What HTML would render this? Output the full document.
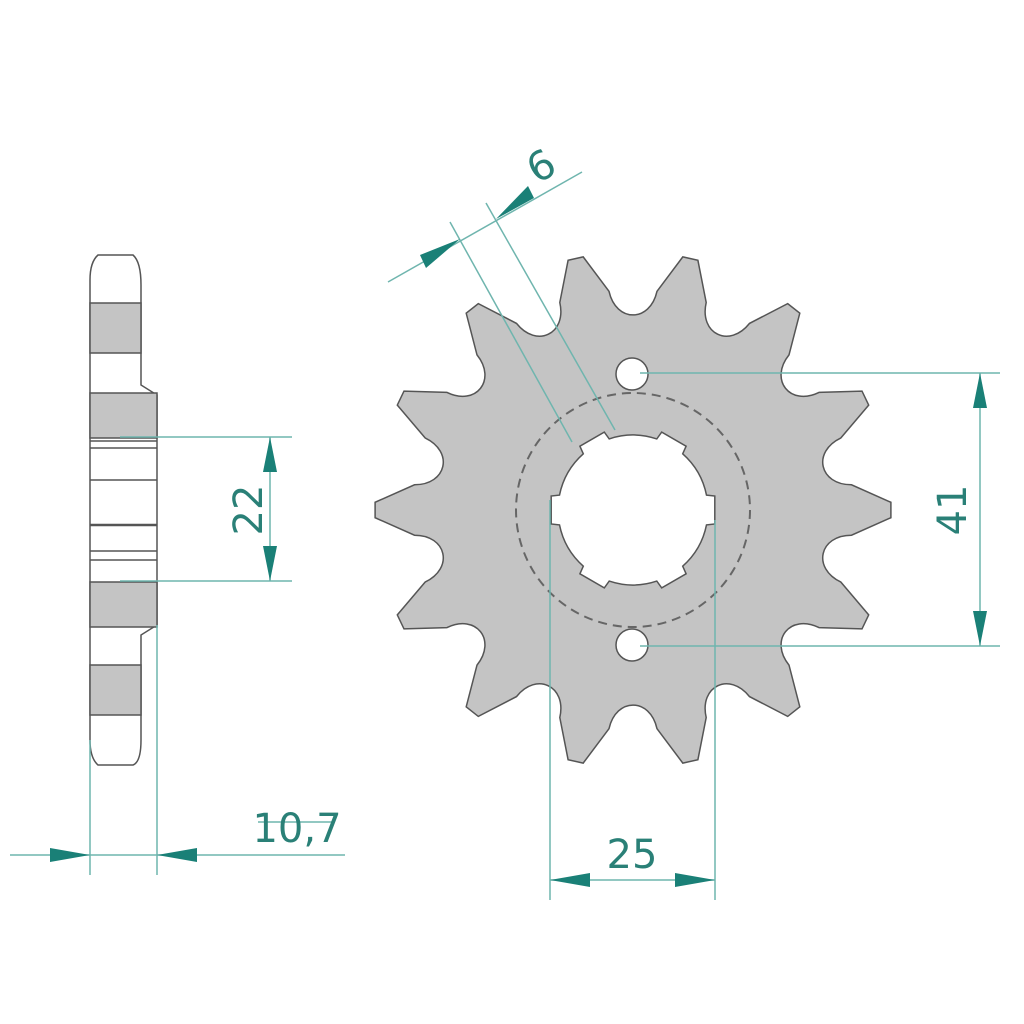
<!DOCTYPE html>
<html><head><style>
html,body{margin:0;padding:0;background:#fff;}
svg{display:block;}
text{font-family:"DejaVu Sans","Liberation Sans",sans-serif;fill:#2a8077;font-size:40px;}
</style></head><body>
<svg id="s" width="1024" height="1024" viewBox="0 0 1024 1024" xmlns="http://www.w3.org/2000/svg">
<!-- side view -->
<g stroke="#555" stroke-width="1.5">
<path d="M98,255 L133,255 Q141,262 141,285 L141,385 L157,395 L157,625 L141,635 L141,740 Q141,762 133,765 L98,765 Q90,758 90,740 L90,280 Q90,262 98,255 Z" fill="#fff"/>
<rect x="90" y="303" width="51" height="50" fill="#c4c4c4"/>
<rect x="90" y="393" width="67" height="45" fill="#c4c4c4"/>
<rect x="90" y="582" width="67" height="45" fill="#c4c4c4"/>
<rect x="90" y="665" width="51" height="50" fill="#c4c4c4"/>
<line x1="90" y1="441" x2="157" y2="441"/><line x1="90" y1="448" x2="157" y2="448"/>
<line x1="90" y1="480" x2="157" y2="480"/>
<line x1="90" y1="525" x2="157" y2="525" stroke-width="2.5"/>
<line x1="90" y1="551" x2="157" y2="551"/><line x1="90" y1="560" x2="157" y2="560"/>
</g>
<!-- sprocket -->
<path id="sp" fill="#c4c4c4" stroke="#555" stroke-width="1.5" d=""/>
<circle cx="633" cy="510" r="117" fill="none" stroke="#666" stroke-width="2" stroke-dasharray="9,6"/>
<path id="bore" fill="#fff" stroke="#555" stroke-width="1.5" d=""/>
<circle cx="632" cy="374" r="16" fill="#fff" stroke="#555" stroke-width="1.5"/>
<circle cx="632" cy="645" r="16" fill="#fff" stroke="#555" stroke-width="1.5"/>
<!-- dimension lines -->
<g stroke="#6fb5ae" stroke-width="1.5" fill="none">
<line x1="120" y1="437" x2="292" y2="437"/>
<line x1="120" y1="581" x2="292" y2="581"/>
<line x1="270" y1="437" x2="270" y2="581"/>
<line x1="90" y1="740" x2="90" y2="875"/>
<line x1="157" y1="625" x2="157" y2="875"/>
<line x1="10" y1="855" x2="345" y2="855"/>
<line x1="258" y1="822" x2="332" y2="822"/>
<line x1="640" y1="373" x2="1000" y2="373"/>
<line x1="640" y1="646" x2="1000" y2="646"/>
<line x1="980" y1="373" x2="980" y2="646"/>
<line x1="550" y1="500" x2="550" y2="900"/>
<line x1="715" y1="520" x2="715" y2="900"/>
<line x1="550" y1="880" x2="715" y2="880"/>
<line x1="388" y1="282" x2="582" y2="172"/>
<line x1="450" y1="222" x2="572" y2="442"/>
<line x1="486" y1="203" x2="615" y2="430"/>
</g>
<g fill="#1a8077">
<polygon points="270,437 263,472 277,472"/>
<polygon points="270,581 263,546 277,546"/>
<polygon points="980,373 973,408 987,408"/>
<polygon points="980,646 973,611 987,611"/>
<polygon points="90,855 50,848 50,862"/>
<polygon points="157,855 197,848 197,862"/>
<polygon points="550,880 590,873 590,887"/>
<polygon points="715,880 675,873 675,887"/>
<polygon points="460,239 420,255 426,268"/>
<polygon points="496,219 534,198 528,186"/>
</g>
<text x="0" y="0" transform="translate(262,510) rotate(-90)" text-anchor="middle">22</text>
<text x="0" y="0" transform="translate(966,510) rotate(-90)" text-anchor="middle">41</text>
<text x="297" y="842" text-anchor="middle">10,7</text>
<text x="632" y="868" text-anchor="middle">25</text>
<text x="0" y="0" transform="translate(548,178) rotate(-30)" text-anchor="middle">6</text>
</svg>
<script>
(function(){
var cx=633,cy=510,N=14,d=Math.PI*2/N,R=258,Rb=220,Rr=196;
function p(r,a){return (cx+r*Math.cos(a)).toFixed(1)+","+(cy+r*Math.sin(a)).toFixed(1);}
var s="";
for(var i=0;i<N;i++){
 var a=-Math.PI/2+d/2+i*d;
 var t=0.03,b=0.115;
 if(i==0)s+="M"+p(Rb,a-b);
 s+=" L"+p(R,a-t)+" L"+p(R,a+t)+" L"+p(Rb,a+b);
 var n=a+d;
 s+=" C"+p(Rr-8,a+d/2-0.09)+" "+p(Rr-8,a+d/2+0.09)+" "+p(Rb,n-b);
}
s+="Z";
document.getElementById("sp").setAttribute("d",s);
var q="",M=6,e=Math.PI*2/M,r1=75,r2=83;
for(var j=0;j<M;j++){
 var a0=j*e,w=0.2;
 var pts=[p(r1,a0-w),p(r2,a0-w+0.03),p(r2,a0+w-0.03),p(r1,a0+w)];
 q+=(j==0?"M":" L")+pts.join(" L");
 q+=" A"+r1+","+r1+" 0 0 1 "+p(r1,a0+e-w);
}
q+="Z";
document.getElementById("bore").setAttribute("d",q);
})();
</script>
</body></html>
